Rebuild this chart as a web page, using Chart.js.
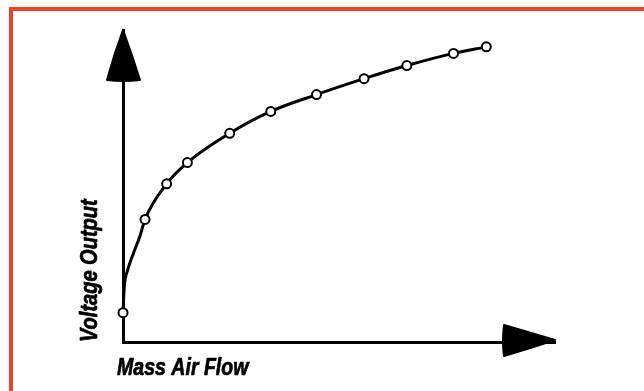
<!DOCTYPE html>
<html>
<head>
<meta charset="utf-8">
<script src="https://cdn.jsdelivr.net/npm/chart.js@4.4.1/dist/chart.umd.min.js"></script>
<style>
  html, body { margin: 0; padding: 0; background: #fff; overflow: hidden; }
  #frame {
    position: absolute; left: 9px; top: 7px; width: 700px; height: 450px;
    border-top: 4px solid #e8442c; border-left: 4px solid #e8442c;
  }
  #chart { position: absolute; left: 0; top: 0; }
</style>
</head>
<body>
<div id="frame"></div>
<canvas id="chart" width="644" height="391"></canvas>
<script>
// Sensor readings (arbitrary units, 0-100 on both axes)
const markerFlow  = [0, 5.1, 10.1, 14.9, 24.7, 34.2, 44.8, 55.8, 65.7, 76.5, 84.1]
const markerVolts = [9.4, 39.3, 50.7, 57.5, 66.9, 73.9, 79.3, 84.4, 88.6, 92.5, 94.6]

// points along the steep start of the curve, between the first two markers
const traceFlow  = [0.3, 1.1, 2.4, 3.9]
const traceVolts = [17.7, 23.1, 28.4, 33.8]

const xTitle = 'Mass Air Flow'
const yTitle = 'Voltage Output'

const markers = markerFlow.map((x, i) => ({ x, y: markerVolts[i] }))
const trace = markers
  .concat(traceFlow.map((x, i) => ({ x, y: traceVolts[i] })))
  .sort((a, b) => a.x - b.x)

const font = "italic bold 23px 'Liberation Sans', Arial, sans-serif"

// condensed heavy caption: squeeze horizontally, thicken with a thin stroke
function caption(ctx, text, squeeze) {
  ctx.save()
  ctx.scale(squeeze, 1)
  ctx.fillText(text, 0, 0)
  ctx.lineWidth = 0.7
  ctx.strokeText(text, 0, 0)
  ctx.restore()
}

// arrowheads on the axes plus the two axis captions
const axisDecor = {
  id: 'axisDecor',
  afterDraw(chart) {
    const { ctx, chartArea: a } = chart
    ctx.save()
    ctx.fillStyle = '#000'
    ctx.strokeStyle = '#000'
    ctx.lineJoin = 'round'
    ctx.lineWidth = 2

    // up arrow
    ctx.beginPath()
    ctx.moveTo(a.left, a.top)
    ctx.quadraticCurveTo(a.left - 9, a.top + 24, a.left - 16, a.top + 50)
    ctx.quadraticCurveTo(a.left, a.top + 52, a.left + 17, a.top + 50)
    ctx.quadraticCurveTo(a.left + 9, a.top + 24, a.left, a.top)
    ctx.closePath()
    ctx.fill(); ctx.stroke()

    // right arrow
    const y = a.bottom - 2
    ctx.beginPath()
    ctx.moveTo(a.right, y)
    ctx.quadraticCurveTo(a.right - 24, y - 7, a.right - 51, y - 15)
    ctx.quadraticCurveTo(a.right - 53, y + 1, a.right - 51, y + 16)
    ctx.quadraticCurveTo(a.right - 24, y + 8, a.right, y)
    ctx.closePath()
    ctx.fill(); ctx.stroke()

    ctx.font = font
    ctx.textBaseline = 'alphabetic'
    ctx.textAlign = 'left'

    ctx.save()
    ctx.translate(a.left - 6, a.bottom + 33)
    caption(ctx, xTitle, 0.85)
    ctx.restore()

    ctx.save()
    ctx.translate(a.left - 26, a.bottom)
    ctx.rotate(-Math.PI / 2)
    caption(ctx, yTitle, 0.87)
    ctx.restore()

    ctx.restore()
  }
}

const axis = {
  type: 'linear',
  min: 0,
  max: 100,
  ticks: { display: false },
  grid: { display: false, drawTicks: false },
  border: { display: true, color: '#000', width: 3 }
}

new Chart(document.getElementById('chart'), {
  type: 'scatter',
  data: {
    datasets: [
      {
        data: markers,
        showLine: false,
        pointRadius: 4.5,
        pointBorderWidth: 2,
        pointBackgroundColor: '#fff',
        pointBorderColor: '#000',
        clip: false
      },
      {
        data: trace,
        showLine: true,
        borderColor: '#000',
        borderWidth: 3,
        cubicInterpolationMode: 'monotone',
        pointRadius: 0,
        clip: false
      }
    ]
  },
  options: {
    responsive: false,
    animation: false,
    layout: { autoPadding: false, padding: { left: 123, right: 89, top: 30, bottom: 49 } },
    scales: { x: axis, y: axis },
    plugins: { legend: { display: false }, tooltip: { enabled: false } }
  },
  plugins: [axisDecor]
})
</script>
</body>
</html>
